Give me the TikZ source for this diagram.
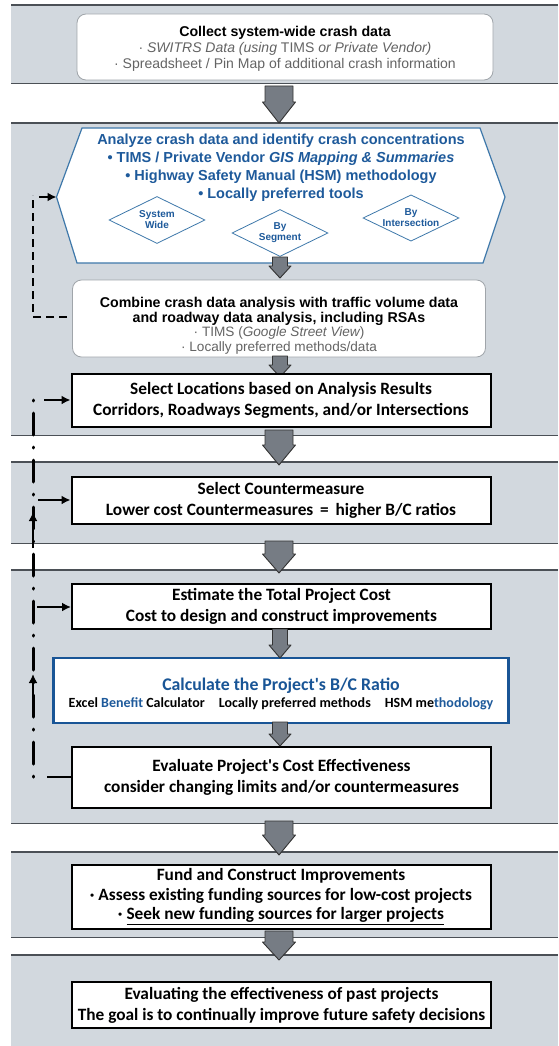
\documentclass[tikz,border=0pt]{standalone}
\usepackage{fontspec}
\setmainfont{Liberation Sans}
\newfontfamily\calib{Carlito}
\usetikzlibrary{shapes.geometric,arrows.meta,calc}
\definecolor{bandfill}{RGB}{210,216,222}
\definecolor{bandline}{RGB}{75,80,86}
\definecolor{hexblue}{RGB}{62,120,170}
\definecolor{txtblue}{RGB}{30,90,155}
\definecolor{calcblue}{RGB}{25,85,150}
\definecolor{arrfill}{RGB}{118,124,132}
\definecolor{graytxt}{RGB}{100,100,100}
\definecolor{softline}{RGB}{160,165,170}
% block arrow: x, ytop, ytip, half shaft, half head, head length
\newcommand\blockarrow[6]{%
  \draw[blockarr] ({#1-#4},#2) -- ({#1+#4},#2) -- ({#1+#4},{#3-#6}) -- ({#1+#5},{#3-#6})
    -- (#1,#3) -- ({#1-#5},{#3-#6}) -- ({#1-#4},{#3-#6}) -- cycle;}
\begin{document}
\begin{tikzpicture}[x=1pt,y=-1pt,
  band/.style={fill=bandfill, draw=none, minimum width=547, inner sep=0, anchor=north west},
  bandln/.style={draw=bandline, line width=1.4},
  softbox/.style={draw=softline, fill=white, rounded corners=9, line width=0.8, inner sep=0},
  txt/.style={inner sep=0, align=center},
  stepbox/.style={draw=black, fill=white, line width=2, inner sep=0, align=center,
     font=\calib\bfseries\fontsize{17.3}{21}\selectfont},
  calcbox/.style={draw=calcblue, fill=white, line width=2.4, inner sep=0},
  diam/.style={diamond, draw=hexblue, fill=white, line width=0.8, inner sep=0, aspect=2,
     text=txtblue, align=center, font=\bfseries\fontsize{10}{11}\selectfont},
  blockarr/.style={fill=arrfill, draw=black!80, line width=0.9, line join=round},
  fbdash/.style={draw=black, line width=2.6, dash pattern=on 8 off 5},
  fbdot/.style={draw=black, line width=3, line cap=round, dash pattern=on 1 off 12 on 22 off 12},
  fbarrow/.style={draw=black, line width=2.4, -{Latex[length=9,width=9]}},
]
\useasboundingbox (0,0) rectangle (558,1046);
\fill[white] (0,0) rectangle (558,1046);

% bands
\node[band, minimum height=78] (band1) at (11,5) {};
\node[band, minimum height=312] (band2) at (11,123) {};
\node[band, minimum height=81] (band3) at (11,462) {};
\node[band, minimum height=253] (band4) at (11,570) {};
\node[band, minimum height=85] (band5) at (11,852) {};
\node[band, minimum height=91] (band6) at (11,955) {};
\foreach \b in {band1,band2,band3,band4,band5}{
  \draw[bandln] (\b.north west) -- (\b.north east);
  \draw[bandln] (\b.south west) -- (\b.south east);
}
\draw[bandln] (band6.north west) -- (band6.north east);

% band arrows
\blockarrow{279}{86}{123}{14}{16.5}{21}
\blockarrow{279}{430}{465}{14}{16.5}{20}
\blockarrow{279}{541}{573}{14}{16.5}{19}
\blockarrow{279}{821}{855}{14}{16.5}{20}
\blockarrow{279}{931}{960}{14}{16.5}{18}

% box 1
\node[softbox, minimum width=416, minimum height=66] (collect) at (285,47) {};
\node[txt, font=\fontsize{14}{16}\selectfont] (collectT) at (285,49)
 {{\bfseries\fontsize{14.2}{16}\selectfont Collect system-wide crash data}\\
  {\color{graytxt}· \itshape SWITRS Data (using \upshape TIMS \itshape or Private Vendor)}\\
  {\color{graytxt}· Spreadsheet / Pin Map of additional crash information}};

% hexagon
\coordinate (hexW) at (56.5,197);
\draw[draw=hexblue, fill=white, line width=1.2] (82,128) -- (480,128) -- (505,197) -- (483,263) -- (77,263) -- (hexW) -- cycle;
\node[txt, text=txtblue, font=\bfseries\fontsize{14.5}{18}\selectfont] (hextext) at (281,168)
 {Analyze crash data and identify crash concentrations\\
  • TIMS / Private Vendor \itshape GIS Mapping \& Summaries\\
  • Highway Safety Manual (HSM) methodology\\
  • Locally preferred tools};
\node[diam, minimum width=96, minimum height=47] (dsys) at (157,220) {System\\Wide};
\node[diam, minimum width=96, minimum height=47] (dseg) at (280,233) {By\\Segment};
\node[diam, minimum width=96, minimum height=45] (dint) at (411,218) {By\\Intersection};

% combine box
\node[softbox, minimum width=413, minimum height=77] (comb) at (279,318.5) {};
\node[txt, font=\fontsize{13.6}{14.5}\selectfont] (combT) at (279,326)
 {{\bfseries\fontsize{14.2}{15.5}\selectfont Combine crash data analysis with traffic volume data}\\
  {\bfseries\fontsize{14.2}{15.5}\selectfont and roadway data analysis, including RSAs}\\
  {\color{graytxt}· TIMS (\itshape Google Street View\upshape)}\\
  {\color{graytxt}· Locally preferred methods/data}};

\blockarrow{280}{257}{278}{7.5}{11}{12}
\blockarrow{280}{356}{377}{7.5}{11}{12}

% step boxes
\node[stepbox, minimum width=419, minimum height=53] (sel) at (281,400.5)
 {Select Locations based on Analysis Results\\Corridors, Roadways Segments, and/or Intersections};
\node[stepbox, minimum width=419, minimum height=47] (cm) at (281,500.5)
 {Select Countermeasure\\Lower cost Countermeasures \,=\, higher B/C ratios};
\node[stepbox, minimum width=419, minimum height=45] (est) at (281.5,606.5)
 {Estimate the Total Project Cost\\Cost to design and construct improvements};
\node[calcbox, minimum width=455, minimum height=65] (calc) at (281,690.5) {};
\node[txt, font=\calib\bfseries\fontsize{14}{17}\selectfont] (calcT) at (281,694)
 {{\fontsize{17.8}{20}\selectfont\color{calcblue}Calculate the Project's B/C Ratio}\\
  Excel {\color{txtblue}Benefit} Calculator\quad Locally preferred methods\quad HSM me{\color{txtblue}thodology}};
\node[stepbox, minimum width=419, minimum height=61] (eval) at (281.5,777.5)
 {Evaluate Project's Cost Effectiveness\\consider changing limits and/or countermeasures};
\blockarrow{280}{629}{658}{7.5}{11}{13}
\blockarrow{280}{722}{746}{7.5}{11}{12}

\node[stepbox, minimum width=419, minimum height=64, font=\calib\bfseries\fontsize{17.3}{19.5}\selectfont] (fund) at (281,896.5)
 {Fund and Construct Improvements\\· Assess existing funding sources for low-cost projects\\· \underline{Seek new funding sources for larger projects}};
\node[stepbox, minimum width=419, minimum height=46] (past) at (281.5,1005)
 {Evaluating the effectiveness of past projects\\The goal is to continually improve future safety decisions};

% feedback loop 1
\coordinate (f1a) at (33,317);
\coordinate (f1b) at (33,195);
\coordinate (f1c) at (39,197);
\coordinate (f1d) at (67,317);
\draw[fbdash] (f1d) -- (f1a) -- (f1b);
\draw[fbarrow] (f1c) -- (hexW);

% feedback loop 2
\coordinate (f2bot) at (33,777);
\coordinate (f2top) at (33,400);
\coordinate (f2e) at (47,777);
\draw[fbdot] (f2bot) -- (f2top);
\draw[draw=black, line width=2.4] (eval.west |- f2e) -- (f2e);
\coordinate (h1) at (44,400);
\coordinate (h2) at (38,500);
\coordinate (h3) at (37,607);
\draw[fbarrow] (h1) -- (sel.west |- h1);
\draw[fbarrow] (h2) -- (cm.west |- h2);
\draw[fbarrow] (h3) -- (est.west |- h3);
\coordinate (u1a) at (33,548);
\coordinate (u1b) at (33,512);
\coordinate (u2a) at (33,704);
\coordinate (u2b) at (33,674);
\draw[fbarrow] (u1a) -- (u1b);
\draw[fbarrow] (u2a) -- (u2b);
\end{tikzpicture}
\end{document}
